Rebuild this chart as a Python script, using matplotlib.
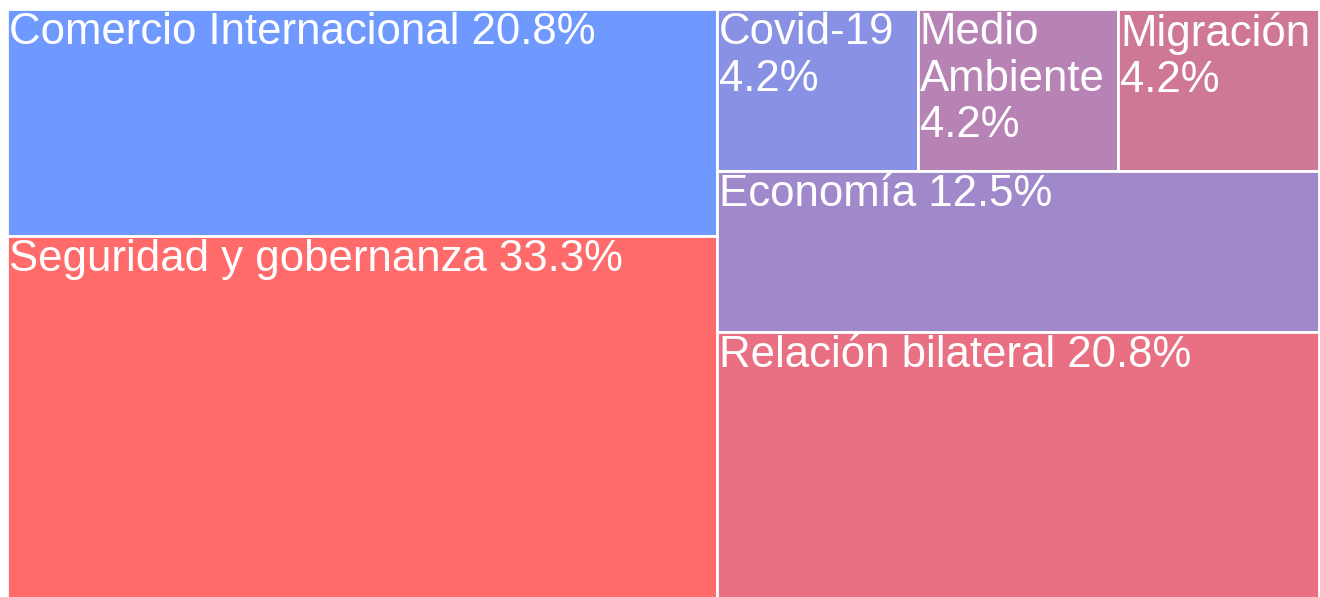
import matplotlib.pyplot as plt
from matplotlib.patches import Rectangle

# Data (share of topics, %)
topics = ["Comercio Internacional", "Seguridad y gobernanza", "Covid-19",
          "Medio Ambiente", "Migración", "Economía", "Relación bilateral"]
shares = [20.8, 33.3, 4.2, 4.2, 4.2, 12.5, 20.8]
labels = ["Comercio Internacional 20.8%", "Seguridad y gobernanza 33.3%",
          "Covid-19\n4.2%", "Medio\nAmbiente\n4.2%", "Migración\n4.2%",
          "Economía 12.5%", "Relación bilateral 20.8%"]
colors = ["#7099ff", "#ff6a6a", "#8891e4", "#b783b4", "#cf7797",
          "#a089cb", "#e87082"]

# tiling: columns -> rows -> cells (indices into the lists above)
layout = [
    [[0], [1]],
    [[2, 3, 4], [5], [6]],
]

plt.rcParams['font.family'] = ['Liberation Sans', 'DejaVu Sans']

fig = plt.figure(figsize=(13.2, 5.97), dpi=100)
ax = fig.add_axes([7 / 1320, -2 / 597, 1312 / 1320, 590 / 597])
ax.set_xlim(0, 1)
ax.set_ylim(1, 0)
ax.axis("off")

total = sum(shares)
x0 = 0
for col in layout:
    col_sum = sum(shares[i] for row in col for i in row)
    w = col_sum / total
    y0 = 0
    for row in col:
        row_sum = sum(shares[i] for i in row)
        h = row_sum / col_sum
        cx = x0
        for i in row:
            cw = w * shares[i] / row_sum
            ax.add_patch(Rectangle((cx, y0), cw, h, facecolor=colors[i],
                                   edgecolor="white", linewidth=2))
            ax.annotate(labels[i], (cx, y0), xytext=(1.5, -2.5),
                        textcoords="offset points", ha="left", va="top",
                        color="white", fontsize=31.5, linespacing=1.17)
            cx += cw
        y0 += h
    x0 += w

fig.savefig("out.png", dpi=100)
